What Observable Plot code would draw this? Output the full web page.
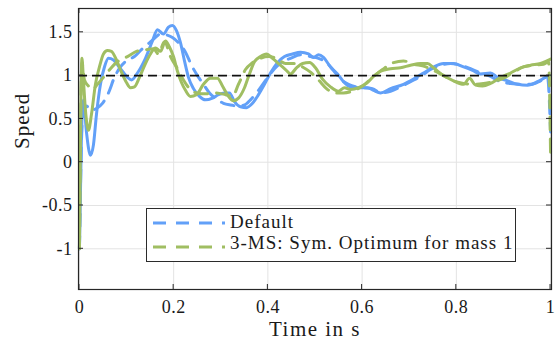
<!DOCTYPE html>
<html>
<head>
<meta charset="utf-8">
<script src="https://cdn.jsdelivr.net/npm/d3@7"></script>
<script src="https://cdn.jsdelivr.net/npm/@observablehq/plot@0.6"></script>
<style>
  html, body { margin: 0; padding: 0; background: #fff; }
  #wrap { position: relative; width: 559px; height: 345px; font-family: 'Liberation Serif'; }
  #legend { position: absolute; left: 146px; top: 208px; width: 368px; height: 52px; border: 1px solid #2b2b2b; background: #fff; font-size: 19px; line-height: 19px; letter-spacing: 1px; color: #1a1a1a; font-family: 'Liberation Serif'; }
  #legend svg { position: absolute; left: 6px; }
  #legend span { position: absolute; left: 83px; white-space: nowrap; }
</style>
</head>
<body>
<div id="wrap"></div>
<script>
// Pixel-read samples, x in px converted to time below: t = (px - 79) / 471
const blueSolidPx = [79,81,83,86,90,93,96,100,104,108,113,120,127,131,137,145,152,157,163,168,172,176,180,184,188,193,199,205,212,218,224,229,234,240,246,252,258,264,270,277,284,292,300,308,313,318,323,330,337,343,350,358,367,373,380,390,403,413,423,433,443,453,463,472,480,490,497,507,517,527,537,545,549];
const blueSolidVal = [-1,0.3,0.72,0.35,0.08,0.2,0.55,0.9,1.1,1.2,1.18,1.08,0.98,0.95,1.03,1.2,1.4,1.53,1.48,1.56,1.58,1.52,1.38,1.17,0.98,0.85,0.76,0.72,0.74,0.78,0.8,0.8,0.7,0.64,0.63,0.68,0.78,0.9,1.03,1.15,1.22,1.25,1.27,1.25,1.21,1.24,1.21,1.1,1.02,0.93,0.87,0.86,0.86,0.83,0.8,0.85,0.9,0.96,1.03,1.1,1.14,1.14,1.1,1.06,1.02,1.03,0.98,0.94,0.9,0.89,0.93,0.98,1.0];

const blueDashPx = [79,82,86,90,96,102,108,114,120,127,134,141,148,154,160,166,172,178,185,191,197,203,209,216,223,230,237,244,250,258,266,274,282,290,300,310,318,326,333,340,348,356,364,372,380,390,400,410,420,430,440,450,460,470,480,490,500,510,520,530,540,547,550];
const blueDashVal = [-1,0.5,0.65,0.6,0.62,0.68,0.8,0.98,1.1,1.18,1.22,1.3,1.37,1.43,1.48,1.47,1.44,1.38,1.27,1.12,1.0,0.9,0.8,0.73,0.68,0.66,0.65,0.66,0.72,0.83,0.96,1.08,1.16,1.2,1.24,1.22,1.2,1.15,1.06,0.96,0.9,0.87,0.86,0.85,0.8,0.82,0.87,0.93,0.99,1.07,1.12,1.14,1.12,1.08,1.03,0.99,0.93,0.91,0.9,0.9,0.94,0.98,0.35];

const greenSolidPx = [79,80,81.5,83,85,88,91,95,99,103,107,111,116,121,126,130,134,139,145,150,155,160,165,169,173,177,181,185,190,196,203,210,217,222,228,233,238,244,249,254,260,266,272,279,285,290,296,302,309,315,322,330,338,344,350,358,366,373,380,390,400,410,420,427,433,443,453,463,469,475,482,490,500,510,520,530,540,548,550];
const greenSolidVal = [-1,0.2,1.2,0.95,0.6,0.37,0.55,0.9,1.1,1.25,1.29,1.28,1.18,1.04,0.92,0.86,0.87,0.98,1.14,1.25,1.32,1.28,1.4,1.33,1.22,1.05,0.92,0.83,0.76,0.78,0.9,0.97,0.97,0.88,0.76,0.71,0.74,0.86,1.02,1.16,1.22,1.25,1.2,1.13,1.07,1.02,1.09,1.14,1.15,1.09,0.96,0.87,0.82,0.86,0.84,0.86,0.91,0.99,1.05,1.08,1.09,1.12,1.14,1.14,1.09,1.0,0.94,0.9,0.97,0.89,0.88,0.91,0.98,1.03,1.09,1.12,1.14,1.18,1.19];

const greenDashPx = [79,80,81.5,84,88,92,97,103,110,118,127,136,146,153,158,164,170,177,183,189,196,205,215,225,232,238,245,252,260,268,276,285,294,302,310,318,326,334,343,352,362,372,382,393,403,413,423,433,443,453,463,473,483,493,503,513,523,533,543,548,550];
const greenDashVal = [-1,0.3,1.15,0.95,0.88,0.84,0.9,0.98,1.08,1.17,1.22,1.28,1.3,1.31,1.25,1.39,1.22,1.08,0.95,0.85,0.8,0.79,0.8,0.78,0.76,0.9,1.07,1.15,1.2,1.22,1.2,1.14,1.14,1.1,1.04,0.95,0.85,0.8,0.8,0.82,0.88,0.98,1.07,1.15,1.17,1.13,1.11,1.06,1.0,0.94,0.91,0.9,0.91,0.93,0.97,1.04,1.1,1.12,1.13,1.16,0.1];

const xTicks = [0, 0.2, 0.4, 0.6, 0.8, 1];
const yTicks = [-1, -0.5, 0, 0.5, 1, 1.5];
const xLabel = "Time in s";
const yLabel = "Speed";
const legendLabels = ["Default", "3-MS: Sym. Optimum for mass 1"];
const blue = "#62A0F8";
const green = "#A0BE62";

const toT = px => (px - 79) / 471;
const mk = (pxs, vals) => pxs.map((p, i) => ({t: toT(p), v: vals[i]}));
const blueSolid = mk(blueSolidPx, blueSolidVal);
const blueDash = mk(blueDashPx, blueDashVal);
const greenSolid = mk(greenSolidPx, greenSolidVal);
const greenDash = mk(greenDashPx, greenDashVal);

const fmt = d => String(d);
const dash = "13,9";
const chart = Plot.plot({
  width: 559, height: 345,
  marginLeft: 78, marginRight: 8, marginTop: 8, marginBottom: 56,
  style: {fontFamily: "Liberation Serif", fontSize: "18px", color: "#1a1a1a", background: "#fff"},
  x: {domain: [-0.002, 1.002], axis: null},
  y: {domain: [-1.47, 1.775], axis: null},
  marks: [
    Plot.gridX(xTicks, {stroke: "#e3e3e3", strokeOpacity: 1}),
    Plot.gridY(yTicks, {stroke: "#e3e3e3", strokeOpacity: 1}),
    Plot.line(blueDash, {x: "t", y: "v", stroke: blue, strokeWidth: 3, strokeDasharray: dash, curve: "monotone-x"}),
    Plot.line(blueSolid, {x: "t", y: "v", stroke: blue, strokeWidth: 3, curve: "monotone-x"}),
    Plot.line(greenDash, {x: "t", y: "v", stroke: green, strokeWidth: 3, strokeDasharray: dash, curve: "monotone-x"}),
    Plot.line(greenSolid, {x: "t", y: "v", stroke: green, strokeWidth: 3, curve: "monotone-x"}),
    Plot.ruleY([1], {stroke: "#111", strokeWidth: 1.6, strokeDasharray: "9,5"}),
    Plot.frame({stroke: "#262626", strokeWidth: 1.2}),
    Plot.text(xTicks, {x: d => d, frameAnchor: "bottom", dy: 18, lineAnchor: "middle", text: fmt, fontSize: 18}),
    Plot.text(yTicks, {y: d => d, frameAnchor: "left", dx: -6, textAnchor: "end", lineAnchor: "middle", text: fmt, fontSize: 18}),
    Plot.text([yLabel], {frameAnchor: "left", rotate: -90, dx: -56, lineAnchor: "middle", fontSize: 21}),
    Plot.text([xLabel], {frameAnchor: "bottom", dy: 40, lineAnchor: "middle", fontSize: 21})
  ]
});
document.getElementById("wrap").appendChild(chart);
const svg = d3.select(chart);
svg.selectAll("text").style("font-family", "Liberation Serif").each(function() {
  const s = this.textContent;
  if (s === xLabel) d3.select(this).style("letter-spacing", "1.5px");
  else if (s === yLabel) d3.select(this).style("letter-spacing", "1px");
  else d3.select(this).style("letter-spacing", "0.5px");
});

// inward ticks on all four sides
const xs = chart.scale("x"), ys = chart.scale("y");
const L = 78, R = 551, T = 8, B = 289;
const tg = svg.append("g").attr("stroke", "#262626").attr("stroke-width", 1);
xTicks.forEach(d => {
  const x = xs.apply(d);
  tg.append("line").attr("x1", x).attr("x2", x).attr("y1", B).attr("y2", B - 5);
  tg.append("line").attr("x1", x).attr("x2", x).attr("y1", T).attr("y2", T + 5);
});
yTicks.forEach(d => {
  const y = ys.apply(d);
  tg.append("line").attr("x1", L).attr("x2", L + 5).attr("y1", y).attr("y2", y);
  tg.append("line").attr("x1", R).attr("x2", R - 5).attr("y1", y).attr("y2", y);
});

// legend
const leg = document.createElement("div");
leg.id = "legend";
const styles = [blue, green];
const lineY = [14, 38];
const textTop = [3, 24];
legendLabels.forEach((lab, i) => {
  const s = document.createElementNS("http://www.w3.org/2000/svg", "svg");
  s.setAttribute("width", 72); s.setAttribute("height", 6);
  s.style.top = (lineY[i] - 3) + "px";
  s.innerHTML = `<line x1="0" x2="72" y1="3" y2="3" stroke="${styles[i]}" stroke-width="3" stroke-dasharray="13,10"/>`;
  leg.appendChild(s);
  const sp = document.createElement("span");
  sp.textContent = lab;
  sp.style.top = textTop[i] + "px";
  leg.appendChild(sp);
});
document.getElementById("wrap").appendChild(leg);
</script>
</body>
</html>
